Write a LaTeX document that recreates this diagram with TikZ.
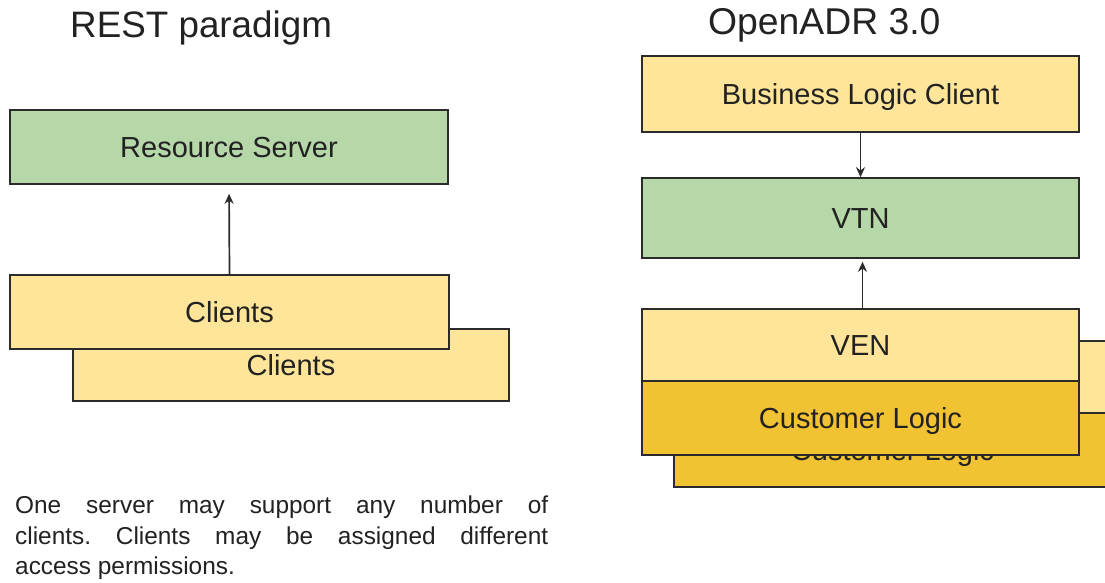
\documentclass[tikz,border=0pt]{standalone}
\usepackage{fontspec}
\setmainfont{Liberation Sans}
\usetikzlibrary{arrows.meta}
\definecolor{lightyel}{HTML}{FFE599}
\definecolor{darkyel}{HTML}{F1C232}
\definecolor{lightgrn}{HTML}{B6D7A8}
\definecolor{linec}{HTML}{2B2B2B}
\definecolor{txtc}{HTML}{222222}
\frenchspacing
\begin{document}
\begin{tikzpicture}[x=1pt,y=-1pt,
  box/.style={draw=linec, line width=1.6pt, inner sep=0pt, text=txtc,
    font=\fontsize{29}{34}\selectfont, text depth=0pt, text height=21pt},
  w437/.style={minimum width=437pt},
  arr/.style={draw=linec, line width=1.7pt, -{Stealth[length=10pt,width=9pt]}},
  title/.style={anchor=base west, inner sep=0pt, text=txtc},
  body/.style={anchor=base west, inner sep=0pt, text=txtc, font=\fontsize{24.4}{30}\selectfont}
]
\useasboundingbox (0,0) rectangle (1105,583);
\clip (0,0) rectangle (1105,583);
\fill[white] (0,0) rectangle (1105,583);

% Left: REST paradigm
\node[title, font=\fontsize{36.8}{42}\selectfont] (t1) at (70,38) {REST paradigm};
\node[box, fill=lightgrn, minimum width=438pt, minimum height=74pt] (rs) at (229,147) {Resource Server};
\node[box, fill=lightyel, minimum width=436pt, minimum height=72pt] (cb) at (291,365) {Clients};
\node[box, fill=lightyel, minimum width=439pt, minimum height=74pt] (cf) at (229.5,312) {Clients};
\draw[arr, shorten >=9pt] (cf.north) -- (rs.south);

\node[body] (l1) at (15,513) {\makebox[533pt][s]{One server may support any number of}};
\node[body] (l2) at (15,544) {\makebox[533pt][s]{clients. Clients may be assigned different}};
\node[body] (l3) at (15,574) {access permissions.};

% Right: OpenADR 3.0
\node[title, font=\fontsize{37.3}{42}\selectfont] (t2) at (708,35) {OpenADR 3.0};
\node[box, w437, fill=lightyel, minimum height=76pt] (blc) at (860.5,94) {Business Logic Client};
\node[box, w437, fill=lightgrn, minimum height=80pt] (vtn) at (860.5,218) {VTN};
\node[box, w437, fill=lightyel, minimum height=72pt] (venb) at (892.5,377) {VEN};
\node[box, w437, fill=darkyel, minimum height=74pt] (clb) at (892.5,450) {Customer Logic};
\node[box, w437, fill=lightyel, minimum height=72pt] (ven) at (860.5,345) {VEN};
\node[box, w437, fill=darkyel, minimum height=74pt] (cl) at (860.5,418) {Customer Logic};
\draw[arr] (blc.south) -- (vtn.north);
\draw[arr, shorten >=3pt] ([xshift=2pt]ven.north) -- ([xshift=2pt]vtn.south);
\end{tikzpicture}
\end{document}
